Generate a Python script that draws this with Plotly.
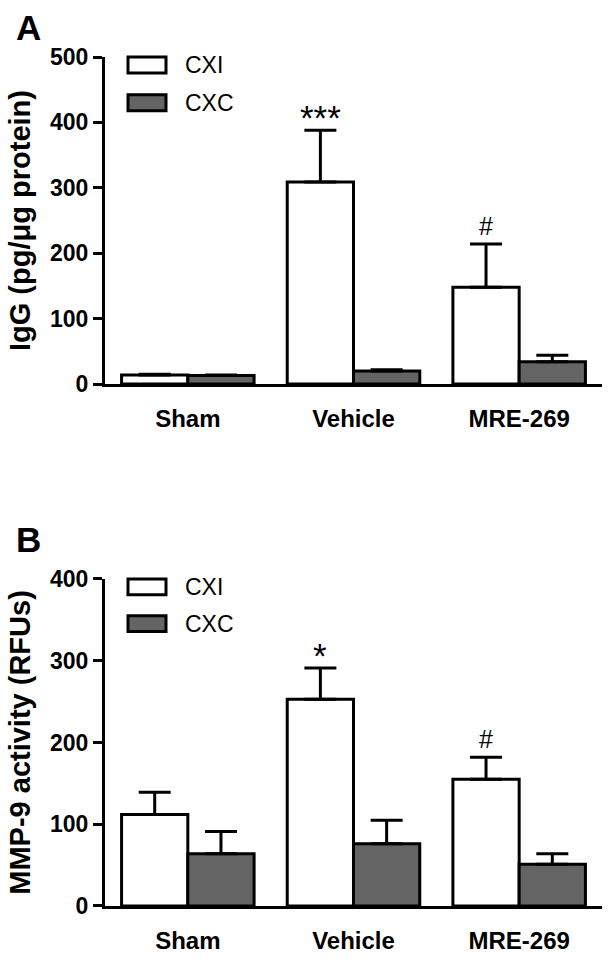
import plotly.graph_objects as go

# ---------------- data ----------------
categories = ["Sham", "Vehicle", "MRE-269"]
series_names = ["CXI", "CXC"]

igg_cxi = [14, 309, 148]
igg_cxi_err = [1, 79, 66]
igg_cxc = [13, 20, 34]
igg_cxc_err = [1, 2, 10]

mmp_cxi = [112, 253, 155]
mmp_cxi_err = [27, 38, 27]
mmp_cxc = [64, 76, 51]
mmp_cxc_err = [27, 29, 13]

igg_ticks = [0, 100, 200, 300, 400, 500]
mmp_ticks = [0, 100, 200, 300, 400]

igg_marks = ["", "***", "#"]
mmp_marks = ["", "*", "#"]

# ---------------- layout geometry ----------------
W, H = 614, 966
ML, MR, MT, MB = 105, 12, 57, 55
PW, PH = W - ML - MR, H - MT - MB


def px2x(px):
    return (px - ML) / PW


def px2y(py):
    return (H - MB - py) / PH


FONT = "Liberation Sans, Arial, sans-serif"
GRAY = "#646464"

fig = go.Figure()
xs = list(range(len(categories)))

panels = [
    ("x", "y", igg_cxi, igg_cxi_err, igg_cxc, igg_cxc_err),
    ("x2", "y2", mmp_cxi, mmp_cxi_err, mmp_cxc, mmp_cxc_err),
]
for xa, ya, a, ae, c, ce in panels:
    for name, vals, errs, fill in [(series_names[0], a, ae, "white"),
                                   (series_names[1], c, ce, GRAY)]:
        fig.add_trace(go.Bar(
            x=xs, y=vals, name=name, xaxis=xa, yaxis=ya,
            marker=dict(color=fill, line=dict(color="black", width=3)),
            error_y=dict(type="data", array=errs, arrayminus=[0] * len(errs),
                         symmetric=False, color="black", thickness=3, width=16),
            showlegend=False,
        ))

axis_common = dict(showline=True, linecolor="black", linewidth=3,
                   showgrid=False, zeroline=False)

fig.update_layout(
    width=W, height=H,
    margin=dict(l=ML, r=MR, t=MT, b=MB),
    paper_bgcolor="white", plot_bgcolor="white",
    barmode="group", bargap=0.2, bargroupgap=0,
    font=dict(family=FONT, color="black"),
    xaxis=dict(domain=[0, 1], anchor="y", range=[-0.5, 2.5],
               tickvals=xs, ticktext=categories, ticks="",
               ticklabelstandoff=11,
               tickfont=dict(size=24, weight="bold"), **axis_common),
    yaxis=dict(domain=[px2y(386), 1], anchor="x", range=[0, 500],
               tickvals=igg_ticks, ticks="outside", ticklen=9, tickwidth=3,
               tickcolor="black", tickfont=dict(size=23, weight="bold"),
               title=dict(text="IgG (pg/μg protein)", standoff=11,
                          font=dict(size=29, weight="bold")),
               **axis_common),
    xaxis2=dict(domain=[0, 1], anchor="y2", range=[-0.5, 2.5],
                tickvals=xs, ticktext=categories, ticks="",
                ticklabelstandoff=11,
                tickfont=dict(size=24, weight="bold"), **axis_common),
    yaxis2=dict(domain=[0, px2y(582)], anchor="x2", range=[0, 400],
                tickvals=mmp_ticks, ticks="outside", ticklen=9, tickwidth=3,
                tickcolor="black", tickfont=dict(size=23, weight="bold"),
                title=dict(text="MMP-9 activity (RFUs)", standoff=11,
                           font=dict(size=29, weight="bold")),
                **axis_common),
)

# significance marks
for xa, ya, vals, errs, marks in [("x", "y", igg_cxi, igg_cxi_err, igg_marks),
                                  ("x2", "y2", mmp_cxi, mmp_cxi_err, mmp_marks)]:
    for i, m in enumerate(marks):
        if not m:
            continue
        star = m.startswith("*")
        fig.add_annotation(x=xs[i] - 0.2, y=vals[i] + errs[i], xref=xa, yref=ya,
                           text=m, showarrow=False, yanchor="bottom",
                           yshift=-9 if star else 2,
                           font=dict(size=35 if star else 25, family=FONT))

# panel letters
for letter, cy in [("A", 27), ("B", 542)]:
    fig.add_annotation(x=px2x(28), y=px2y(cy), xref="paper", yref="paper",
                       text=letter, showarrow=False, xanchor="center", yanchor="middle",
                       font=dict(size=35, weight="bold", family=FONT))

# legends (swatches + labels)
for top1, top2 in [(57, 95), (582, 619)]:
    for top, fill, label in [(top1, "white", series_names[0]), (top2, GRAY, series_names[1])]:
        fig.add_shape(type="rect", xref="paper", yref="paper",
                      x0=px2x(128), x1=px2x(166), y0=px2y(top + 16), y1=px2y(top),
                      fillcolor=fill, line=dict(color="black", width=3))
        fig.add_annotation(x=px2x(183), y=px2y(top + 8), xref="paper", yref="paper",
                           text=label, showarrow=False, xanchor="left", yanchor="middle",
                           font=dict(size=23, family=FONT))

fig.write_html("out.html", config={"displayModeBar": False},
               post_script="document.body.style.margin='0';")
